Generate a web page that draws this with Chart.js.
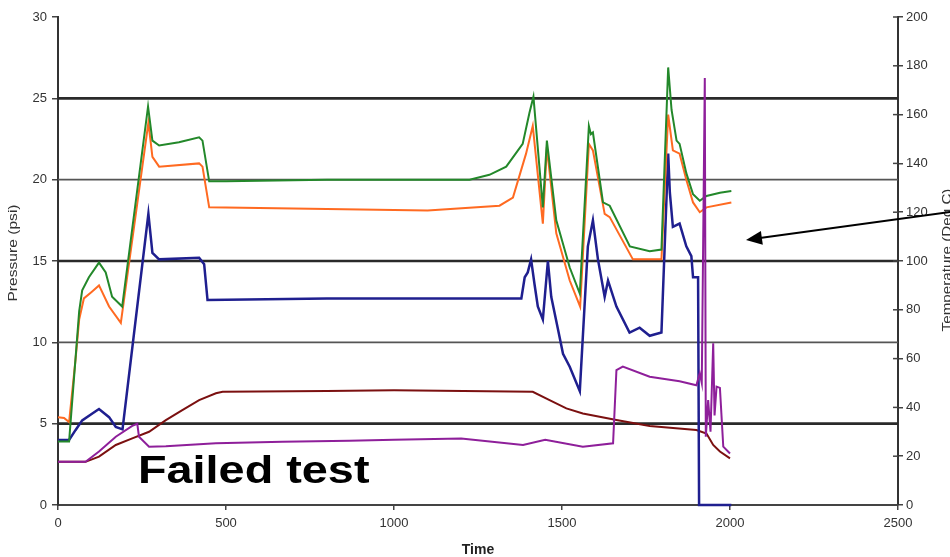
<!DOCTYPE html>
<html>
<head>
<meta charset="utf-8">
<script src="https://cdn.jsdelivr.net/npm/chart.js@4.4.1/dist/chart.umd.min.js"></script>
<style>
html,body{margin:0;padding:0;background:#fff;overflow:hidden}
#wrap{width:950px;height:557px;position:relative}
</style>
</head>
<body>
<div id="wrap"><canvas id="c" width="950" height="557"></canvas></div>
<script>
// ---- tick labels ----
const timeTicks = [0, 500, 1000, 1500, 2000, 2500];
const pressureTicks = [0, 5, 10, 15, 20, 25, 30];
const temperatureTicks = [0, 20, 40, 60, 80, 100, 120, 140, 160, 180, 200];
const gridMajor = [5, 15, 25];
const gridMinor = [10, 20];

// ---- titles / annotation ----
const xTitle = 'Time';
const yTitle = 'Pressure (psi)';
const y1Title = 'Temperature (Deg C)';
const noteText = 'Failed test';

// ---- series: pressure (psi) ----
const greenTime = [0, 33, 63, 72, 92, 122, 142, 161, 191, 268, 281, 301, 360, 420, 430, 450, 500, 800, 1100, 1225, 1284, 1334, 1383, 1403, 1415, 1443, 1455, 1483, 1523, 1553, 1580, 1586, 1592, 1622, 1642, 1702, 1761, 1796, 1816, 1826, 1841, 1850, 1870, 1890, 1910, 1930, 1970, 2004];
const greenPsi  = [3.9, 3.9, 11.9, 13.2, 14.0, 14.9, 14.3, 12.8, 12.2, 24.5, 22.4, 22.1, 22.3, 22.6, 22.4, 19.9, 19.9, 20.0, 20.0, 20.0, 20.3, 20.8, 22.2, 24.1, 25.1, 18.3, 22.4, 17.5, 14.6, 13.0, 23.3, 22.8, 22.9, 18.6, 18.4, 15.9, 15.6, 15.7, 26.9, 24.3, 22.4, 22.2, 20.4, 19.1, 18.7, 19.0, 19.2, 19.3];

const orangeTime = [0, 18, 33, 52, 63, 77, 100, 122, 152, 187, 269, 281, 301, 420, 430, 450, 800, 1100, 1314, 1354, 1393, 1413, 1443, 1455, 1483, 1523, 1554, 1580, 1592, 1627, 1642, 1711, 1796, 1816, 1830, 1850, 1870, 1890, 1910, 1930, 2004];
const orangePsi  = [5.4, 5.35, 5.1, 8.9, 11.4, 12.7, 13.1, 13.5, 12.2, 11.2, 23.5, 21.4, 20.8, 21.0, 20.8, 18.3, 18.2, 18.1, 18.4, 18.9, 21.6, 23.3, 17.3, 22.0, 16.7, 13.8, 12.2, 22.2, 21.8, 17.9, 17.7, 15.1, 15.1, 24.0, 21.8, 21.6, 20.0, 18.6, 18.0, 18.3, 18.6];

const blueTime = [0, 33, 52, 72, 100, 122, 152, 172, 192, 269, 281, 301, 420, 435, 445, 800, 1100, 1379, 1389, 1398, 1408, 1418, 1428, 1443, 1458, 1468, 1488, 1503, 1523, 1553, 1577, 1592, 1607, 1627, 1637, 1662, 1701, 1731, 1761, 1796, 1816, 1821, 1830, 1850, 1870, 1885, 1890, 1905, 1908, 2004];
const bluePsi  = [4.0, 4.0, 4.6, 5.2, 5.6, 5.9, 5.4, 4.8, 4.65, 17.9, 15.5, 15.1, 15.2, 14.8, 12.6, 12.7, 12.7, 12.7, 14.0, 14.3, 15.1, 13.6, 12.2, 11.4, 15.0, 12.8, 10.8, 9.3, 8.5, 7.0, 15.9, 17.5, 15.1, 12.8, 13.8, 12.2, 10.6, 10.9, 10.4, 10.6, 21.6, 19.2, 17.1, 17.3, 15.9, 15.3, 14.0, 14.0, 0, 0];

// ---- series: temperature (Deg C) ----
const maroonTime = [0, 82, 122, 172, 221, 271, 321, 370, 420, 470, 490, 800, 1000, 1413, 1463, 1513, 1562, 1662, 1761, 1900, 1930, 1950, 1970, 2000];
const maroonDegC = [17.7, 17.7, 19.8, 24.6, 27.3, 30.0, 34.8, 38.9, 43.0, 45.8, 46.4, 46.7, 47.0, 46.4, 43.0, 39.6, 37.5, 34.8, 32.4, 30.7, 29.3, 24.6, 21.9, 19.1];

const purpleTime = [0, 82, 122, 172, 221, 236, 241, 271, 321, 470, 668, 867, 1000, 1200, 1384, 1450, 1562, 1652, 1662, 1681, 1761, 1850, 1900, 1910, 1916, 1925, 1928, 1935, 1942, 1950, 1954, 1960, 1970, 1980, 2000];
const purpleDegC = [17.7, 17.7, 21.9, 28.0, 32.4, 33.3, 28.0, 23.9, 24.1, 25.3, 25.9, 26.3, 26.7, 27.3, 24.6, 26.7, 23.9, 25.3, 55.3, 56.7, 52.6, 50.7, 49.1, 54.0, 50.0, 175, 28.0, 43.0, 30.0, 66.3, 36.7, 48.5, 48.0, 23.9, 21.1];

const FONT = "'Liberation Sans', Arial, sans-serif";

function pts(t, v) { return t.map((x, i) => ({ x: x, y: v[i] })); }
function line(data, color, axis, extra) {
  return Object.assign({ data: data, borderColor: color, backgroundColor: color, borderWidth: 2, pointRadius: 0,
           tension: 0, fill: false, showLine: true, yAxisID: axis }, extra || {});
}

const overlay = {
  id: 'overlay',
  beforeDatasetsDraw(chart) {
    const { ctx, chartArea: a, scales } = chart;
    const y = scales.y;
    ctx.save();
    gridMinor.forEach(v => {
      const py = y.getPixelForValue(v);
      ctx.beginPath(); ctx.lineWidth = 1.6; ctx.strokeStyle = '#555';
      ctx.moveTo(a.left, py); ctx.lineTo(a.right, py); ctx.stroke();
    });
    gridMajor.forEach(v => {
      const py = y.getPixelForValue(v);
      ctx.beginPath(); ctx.lineWidth = 2.6; ctx.strokeStyle = '#2a2a2a';
      ctx.moveTo(a.left, py); ctx.lineTo(a.right, py); ctx.stroke();
    });
    ctx.restore();
  },
  afterDraw(chart) {
    const { ctx, chartArea: a, scales } = chart;
    const y1 = scales.y1;
    ctx.save();
    // inner half of right-axis tick marks
    ctx.strokeStyle = '#444'; ctx.lineWidth = 1.5;
    temperatureTicks.forEach(v => {
      const py = y1.getPixelForValue(v);
      ctx.beginPath(); ctx.moveTo(a.right - 5, py); ctx.lineTo(a.right, py); ctx.stroke();
    });
    // left axis title
    ctx.fillStyle = '#333';
    ctx.font = '13px ' + FONT;
    ctx.textAlign = 'center'; ctx.textBaseline = 'middle';
    ctx.save(); ctx.translate(13, 253); ctx.rotate(-Math.PI / 2); ctx.scale(1.2, 1);
    ctx.fillText(yTitle, 0, 0); ctx.restore();
    // right axis title (partly outside the window)
    ctx.save(); ctx.translate(947.5, 260); ctx.rotate(-Math.PI / 2); ctx.scale(1.17, 1);
    ctx.fillText(y1Title, 0, 0); ctx.restore();
    // annotation text
    ctx.save(); ctx.translate(138, 482.5); ctx.scale(1.2, 1);
    ctx.fillStyle = '#000'; ctx.font = 'bold 39px ' + FONT;
    ctx.textAlign = 'left'; ctx.textBaseline = 'alphabetic';
    ctx.fillText(noteText, 0, 0); ctx.restore();
    // arrow
    const sx = 952, sy = 211.7, tx = 746, ty = 240;
    const dx = tx - sx, dy = ty - sy, len = Math.hypot(dx, dy);
    const ux = dx / len, uy = dy / len, px = -uy, py = ux;
    const hl = 16, hw = 7;
    const bx = tx - ux * hl, by = ty - uy * hl;
    ctx.strokeStyle = '#000'; ctx.lineWidth = 2;
    ctx.beginPath(); ctx.moveTo(sx, sy); ctx.lineTo(bx + ux * 2, by + uy * 2); ctx.stroke();
    ctx.fillStyle = '#000';
    ctx.beginPath(); ctx.moveTo(tx, ty);
    ctx.lineTo(bx + px * hw, by + py * hw);
    ctx.lineTo(bx - px * hw, by - py * hw);
    ctx.closePath(); ctx.fill();
    ctx.restore();
  }
};

const tickFont = { family: FONT, size: 13 };
const plain = v => String(v);

new Chart(document.getElementById('c'), {
  type: 'scatter',
  data: {
    datasets: [
      line(pts(purpleTime, purpleDegC), '#8e1f9a', 'y1'),
      line(pts(greenTime, greenPsi), '#23882a', 'y'),
      line(pts(orangeTime, orangePsi), '#ff6a21', 'y'),
      line(pts(blueTime, bluePsi), '#1f1f8f', 'y', { clip: false, borderWidth: 2.5 }),
      line(pts(maroonTime, maroonDegC), '#7b1010', 'y1')
    ]
  },
  options: {
    responsive: false,
    animation: false,
    devicePixelRatio: 1,
    plugins: { legend: { display: false }, tooltip: { enabled: false } },
    layout: { padding: { top: 17, left: 0, right: 0, bottom: 0 } },
    scales: {
      x: {
        type: 'linear', position: 'bottom', min: 0, max: 2500,
        afterBuildTicks: s => { s.ticks = timeTicks.map(v => ({ value: v })); },
        afterFit: s => { s.height = 52; },
        grid: { drawOnChartArea: false, drawTicks: true, tickLength: 5, color: '#444', lineWidth: 1.5 },
        border: { display: true, color: '#444', width: 2 },
        ticks: { color: '#333', font: tickFont, padding: 6, maxRotation: 0, autoSkip: false, callback: plain },
        title: { display: true, text: xTitle, color: '#222', font: { family: FONT, size: 14, weight: 'bold' }, padding: { top: 0, bottom: -2 } }
      },
      y: {
        type: 'linear', position: 'left', min: 0, max: 30,
        afterBuildTicks: s => { s.ticks = pressureTicks.map(v => ({ value: v })); },
        afterFit: s => { s.width = 58; },
        grid: { drawOnChartArea: false, drawTicks: true, tickLength: 6, color: '#444', lineWidth: 1.5 },
        border: { display: true, color: '#333', width: 2 },
        ticks: { color: '#333', font: tickFont, padding: 5, autoSkip: false, callback: plain }
      },
      y1: {
        type: 'linear', position: 'right', min: 0, max: 200,
        afterBuildTicks: s => { s.ticks = temperatureTicks.map(v => ({ value: v })); },
        afterFit: s => { s.width = 52; },
        grid: { drawOnChartArea: false, drawTicks: true, tickLength: 5, color: '#444', lineWidth: 1.5 },
        border: { display: true, color: '#333', width: 2 },
        ticks: { color: '#333', font: tickFont, padding: 3, autoSkip: false, callback: plain }
      }
    }
  },
  plugins: [overlay]
});
</script>
</body>
</html>
